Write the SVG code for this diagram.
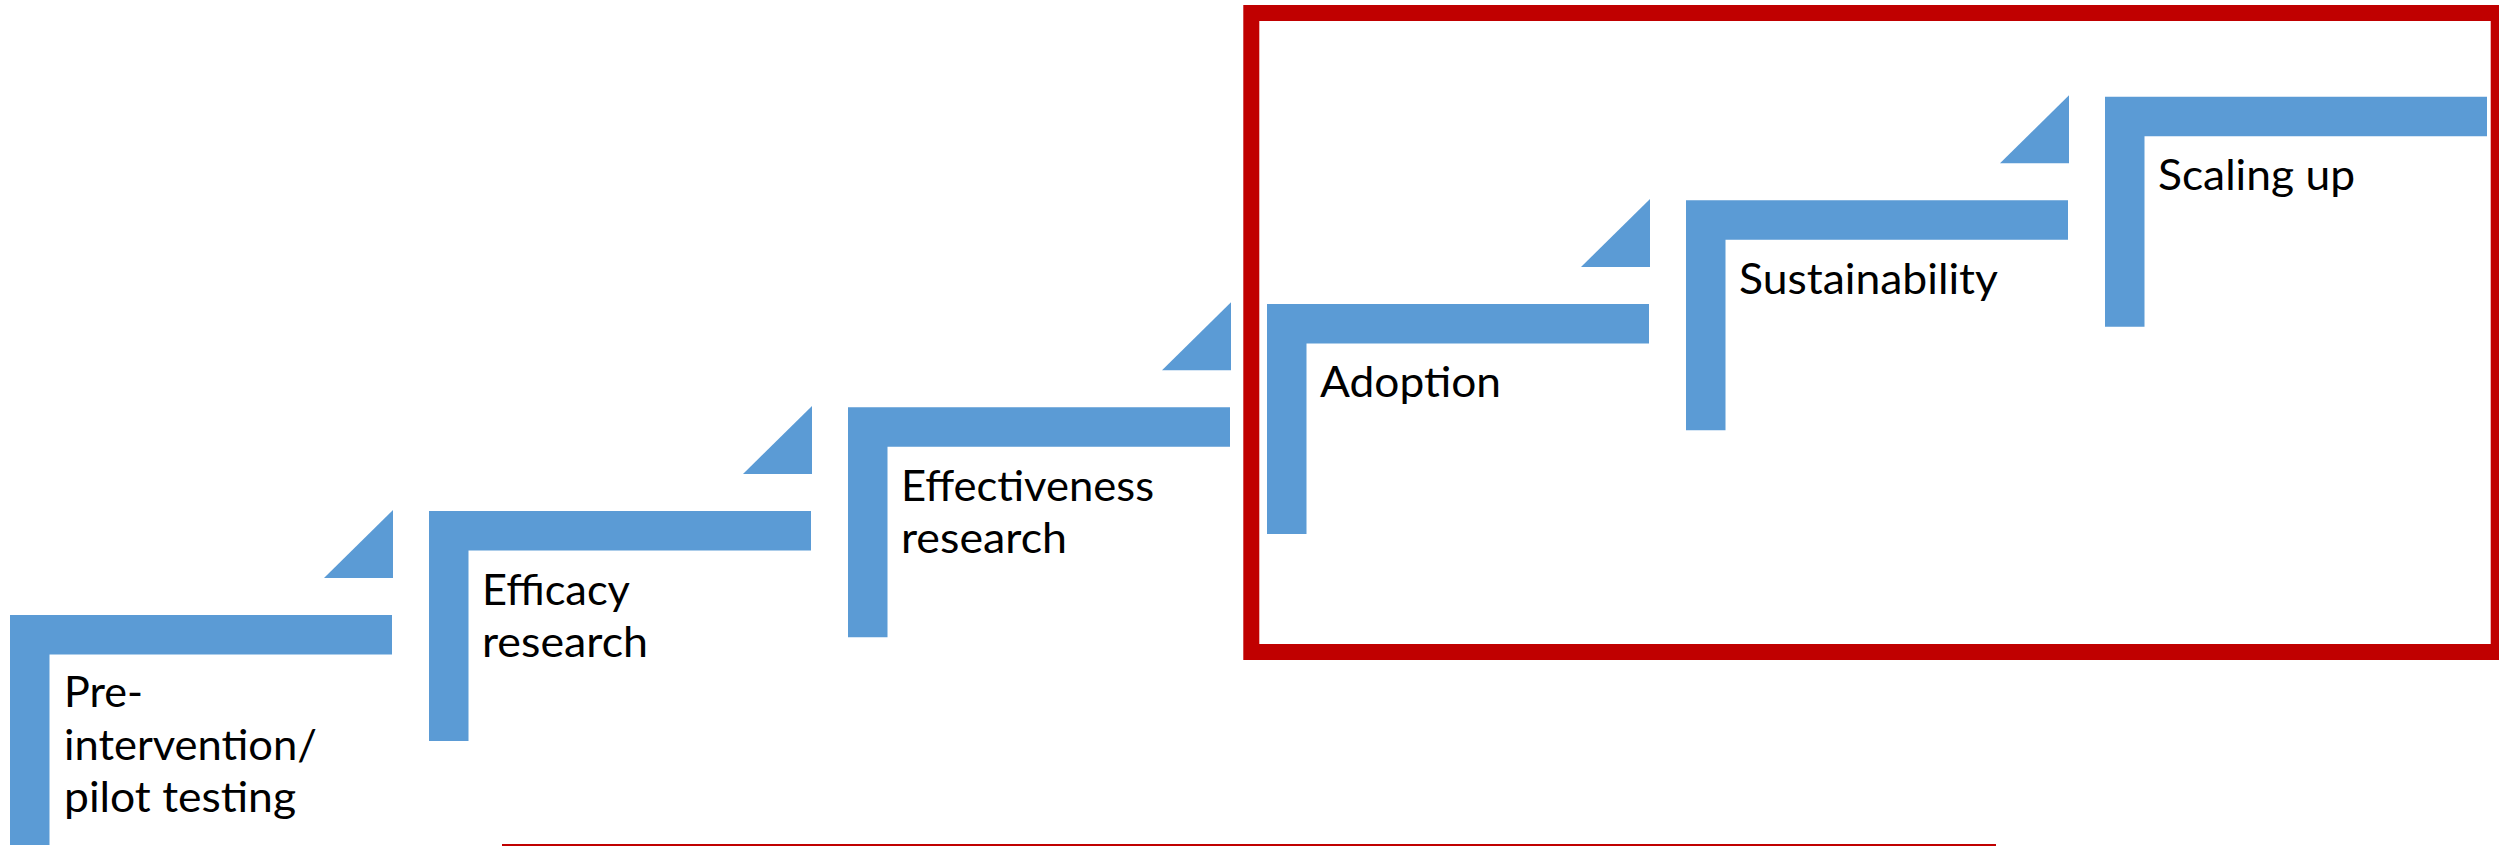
<svg xmlns="http://www.w3.org/2000/svg" width="2499" height="846" viewBox="0 0 2499 846">
<style>
.bar{fill:#5B9BD5}
.tri{fill:#5B9BD5}
.lbl{font-family:Lato,"Open Sans","Liberation Sans",sans-serif;font-size:42px;fill:#000}
.frame{fill:none;stroke:#C00000;stroke-width:16}
</style>
<rect width="2499" height="846" fill="#fff"/>
<g id="connectors">
<polygon class="tri" points="393,510 393,578 324,578"/>
<polygon class="tri" points="812,406 812,474 743,474"/>
<polygon class="tri" points="1231,302.3 1231,370.3 1162,370.3"/>
<polygon class="tri" points="1650,199 1650,267 1581,267"/>
<polygon class="tri" points="2069,95.3 2069,163.3 2000,163.3"/>
</g>
<g id="step-pre-intervention">
<path class="bar" d="M10,615 H392 V654.5 H49.5 V845 H10 Z"/>
<text class="lbl" x="64" y="707" textLength="79" lengthAdjust="spacingAndGlyphs">Pre-</text>
<text class="lbl" x="64" y="760" textLength="253" lengthAdjust="spacingAndGlyphs">intervention/</text>
<text class="lbl" x="64" y="812" textLength="232" lengthAdjust="spacingAndGlyphs">pilot testing</text>
</g>
<g id="step-efficacy">
<path class="bar" d="M429,511 H811 V550.5 H468.5 V741 H429 Z"/>
<text class="lbl" x="482" y="605" textLength="148" lengthAdjust="spacingAndGlyphs">Efficacy</text>
<text class="lbl" x="482" y="657" textLength="166" lengthAdjust="spacingAndGlyphs">research</text>
</g>
<g id="step-effectiveness">
<path class="bar" d="M848,407.3 H1230 V446.8 H887.5 V637.3 H848 Z"/>
<text class="lbl" x="901" y="501" textLength="253" lengthAdjust="spacingAndGlyphs">Effectiveness</text>
<text class="lbl" x="901" y="553" textLength="166" lengthAdjust="spacingAndGlyphs">research</text>
</g>
<g id="highlight-box">
<rect class="frame" x="1251.3" y="13" width="1247.4" height="639"/>
</g>
<g id="step-adoption">
<path class="bar" d="M1267,304 H1649 V343.5 H1306.5 V534 H1267 Z"/>
<text class="lbl" x="1320" y="397" textLength="181" lengthAdjust="spacingAndGlyphs">Adoption</text>
</g>
<g id="step-sustainability">
<path class="bar" d="M1686,200.3 H2068 V239.8 H1725.5 V430.3 H1686 Z"/>
<text class="lbl" x="1739" y="293.5" textLength="259" lengthAdjust="spacingAndGlyphs">Sustainability</text>
</g>
<g id="step-scaling-up">
<path class="bar" d="M2105,96.7 H2487 V136.2 H2144.5 V326.7 H2105 Z"/>
<text class="lbl" x="2158" y="189.5" textLength="197" lengthAdjust="spacingAndGlyphs">Scaling up</text>
</g>
<rect x="502" y="844" width="1494" height="2" fill="#C00000"/>
</svg>
